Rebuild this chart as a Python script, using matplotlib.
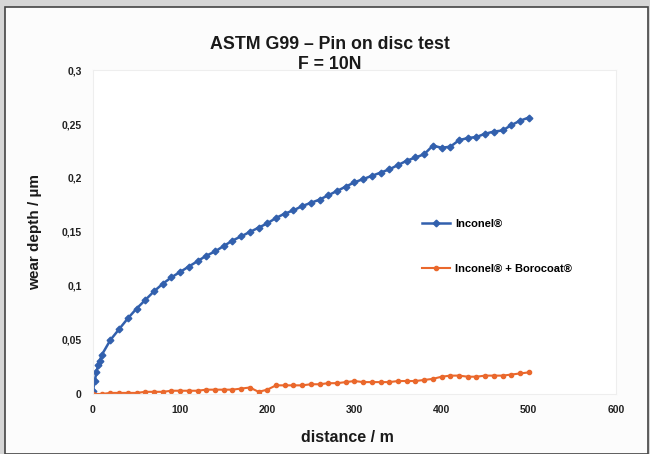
import matplotlib.pyplot as plt
from matplotlib.patches import Rectangle

plt.rcParams["font.family"] = ["Liberation Sans", "DejaVu Sans"]

# distance / m
dist_inconel = [0, 2, 4, 6, 8, 10, 20, 30, 40, 50, 60, 70, 80, 90, 100,
                110, 120, 130, 140, 150, 160, 170, 180, 190, 200,
                210, 220, 230, 240, 250, 260, 270, 280, 290, 300,
                310, 320, 330, 340, 350, 360, 370, 380, 390, 400,
                410, 420, 430, 440, 450, 460, 470, 480, 490, 500]
# wear depth / um
wear_inconel = [0.003, 0.012, 0.020, 0.027, 0.031, 0.036, 0.050, 0.060, 0.070, 0.079,
                0.087, 0.095, 0.102, 0.108, 0.113, 0.118, 0.123, 0.128, 0.132, 0.137,
                0.142, 0.146, 0.150, 0.154, 0.158, 0.163, 0.167, 0.170, 0.174, 0.177,
                0.180, 0.184, 0.188, 0.192, 0.196, 0.199, 0.202, 0.205, 0.208, 0.212,
                0.216, 0.219, 0.222, 0.230, 0.228, 0.229, 0.235, 0.237, 0.238, 0.241,
                0.243, 0.244, 0.249, 0.253, 0.256]

dist_borocoat = [0, 10, 20, 30, 40, 50, 60, 70, 80, 90, 100,
                 110, 120, 130, 140, 150, 160, 170, 180, 190, 200,
                 210, 220, 230, 240, 250, 260, 270, 280, 290, 300,
                 310, 320, 330, 340, 350, 360, 370, 380, 390, 400,
                 410, 420, 430, 440, 450, 460, 470, 480, 490, 500]
wear_borocoat = [0.000, 0.000, 0.001, 0.001, 0.001, 0.001, 0.002, 0.002, 0.002, 0.003, 0.003,
                 0.003, 0.003, 0.004, 0.004, 0.004, 0.004, 0.005, 0.006, 0.002, 0.004,
                 0.008, 0.008, 0.008, 0.008, 0.009, 0.009, 0.010, 0.010, 0.011, 0.012,
                 0.011, 0.011, 0.011, 0.011, 0.012, 0.012, 0.012, 0.013, 0.014, 0.016,
                 0.017, 0.017, 0.016, 0.016, 0.017, 0.017, 0.017, 0.018, 0.019, 0.020]

x_ticks = [0, 100, 200, 300, 400, 500, 600]
y_ticks = [0, 0.05, 0.1, 0.15, 0.2, 0.25, 0.3]
y_labels = ["0", "0,05", "0,1", "0,15", "0,2", "0,25", "0,3"]

fig = plt.figure(figsize=(6.5, 4.54), dpi=100)
fig.patch.set_facecolor("#d6d6d6")
# white panel with dark frame, drawn behind the axes
panel = Rectangle((0.007, 0.0), 0.99, 0.985, transform=fig.transFigure,
                  facecolor="#fcfcfc", edgecolor="#444444", linewidth=1.2, zorder=-10)
fig.add_artist(panel)

ax = fig.add_axes([0.143, 0.1322, 0.8046, 0.7136])
ax.set_zorder(1)
ax.set_facecolor("white")

ax.plot(dist_inconel, wear_inconel, color="#3260ad", marker="D", markersize=3.4,
        linewidth=1.8, label="Inconel®")
ax.plot(dist_borocoat, wear_borocoat, color="#ea682c", marker="o", markersize=3.0,
        linewidth=1.5, label="Inconel® + Borocoat®")

ax.set_xlim(0, 600)
ax.set_ylim(0, 0.3)
ax.set_xticks(x_ticks)
ax.set_xticklabels([str(t) for t in x_ticks])
ax.set_yticks(y_ticks)
ax.set_yticklabels(y_labels)
ax.tick_params(length=0, labelsize=7.5, colors="#222222", pad=8)
for lbl in ax.get_xticklabels() + ax.get_yticklabels():
    lbl.set_fontweight("bold")
for s in ax.spines.values():
    s.set_color("#eeeeee")
    s.set_linewidth(0.8)

ax.legend(loc="center left", bbox_to_anchor=(0.61, 0.455), frameon=False,
          labelspacing=3.2, handlelength=2.5, handletextpad=0.45,
          prop={"weight": "bold", "size": 8})

fig.text(0.508, 0.902, "ASTM G99 – Pin on disc test", ha="center", va="center",
         fontsize=12.8, fontweight="bold", color="#1a1a1a")
fig.text(0.508, 0.858, "F = 10N", ha="center", va="center",
         fontsize=12.8, fontweight="bold", color="#1a1a1a")
fig.text(0.054, 0.488, "wear depth / µm", ha="center", va="center", rotation=90,
         fontsize=11, fontweight="bold", color="#1a1a1a")
fig.text(0.534, 0.037, "distance / m", ha="center", va="center",
         fontsize=11.5, fontweight="bold", color="#1a1a1a")

fig.savefig("out.png", dpi=100, facecolor=fig.get_facecolor())
